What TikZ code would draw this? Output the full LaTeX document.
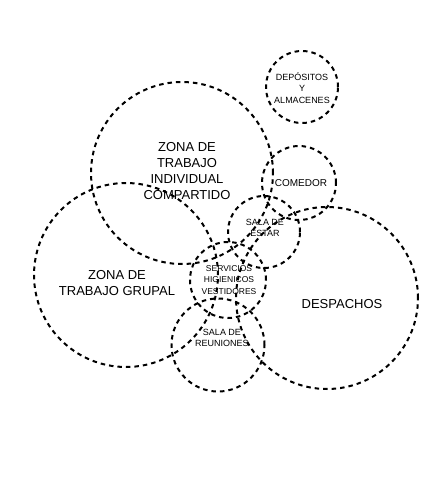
\documentclass[tikz,border=0pt]{standalone}
\usepackage{fontspec}
\setmainfont{Liberation Sans}
\usetikzlibrary{positioning}

\begin{document}
\begin{tikzpicture}[x=1pt, y=-1pt,
    area/.style = {draw, circle, line width=2pt, dash pattern=on 4.5pt off 4pt, inner sep=0pt},
    big/.style = {align=center, font=\fontsize{13}{15.7}\selectfont},
    small/.style = {align=center, font=\fontsize{9}{11.5}\selectfont}]
    \useasboundingbox (0,0) rectangle (421,480);

    \node[area, minimum size=182pt] (individual) at (182,173) {};
    \node[area, minimum size=184pt] (grupal) at (126,275) {};
    \node[area, minimum size=182pt] (despachos) at (327,298) {};
    \node[area, minimum size=72pt] (depositos) at (302,87) {};
    \node[area, minimum size=74pt] (comedor) at (299,183) {};
    \node[area, minimum size=72pt] (estar) at (264,232) {};
    \node[area, minimum size=76pt] (servicios) at (228,280) {};
    \node[area, minimum size=93pt] (reuniones) at (218,345) {};

    \node[big] (individual-t) at (187,171) {ZONA DE\\TRABAJO\\INDIVIDUAL\\COMPARTIDO};
    \node[big] (grupal-t) at (117,283) {ZONA DE\\TRABAJO GRUPAL};
    \node[big] (despachos-t) at (342,304) {DESPACHOS};
    \node[small] (depositos-t) at (302,88) {DEPÓSITOS\\Y\\ALMACENES};
    \node[small, font=\fontsize{10}{12}\selectfont] (comedor-t) at (301,183) {COMEDOR};
    \node[small] (estar-t) at (265,228) {SALA DE\\ESTAR};
    \node[small, font=\fontsize{8.5}{11.5}\selectfont] (servicios-t) at (229,280) {SERVICIOS\\HIGIENICOS\\VESTIDORES};
    \node[small] (reuniones-t) at (222,338) {SALA DE\\REUNIONES};
\end{tikzpicture}
\end{document}
